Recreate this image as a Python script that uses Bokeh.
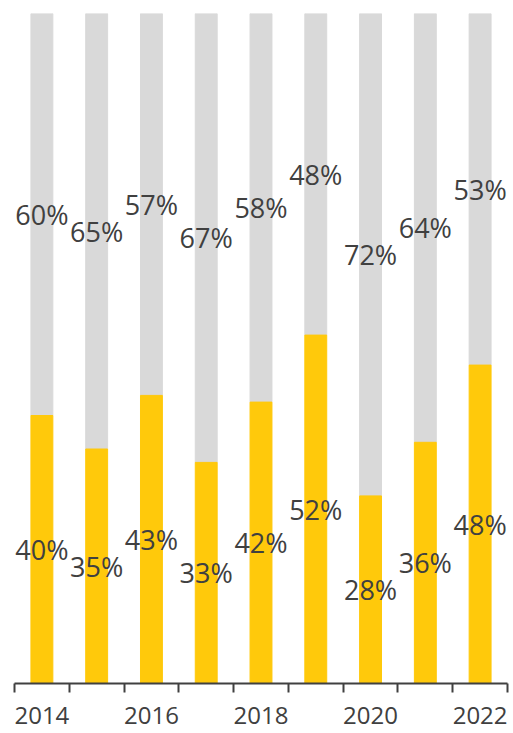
from bokeh.plotting import figure
from bokeh.models import ColumnDataSource, FixedTicker, Range1d
from bokeh.embed import file_html
from bokeh.resources import INLINE
from bokeh.core.properties import value

years = ["2014", "2015", "2016", "2017", "2018", "2019", "2020", "2021", "2022"]
yellow = [40, 35, 43, 33, 42, 52, 28, 36, 48]
gray = [60, 65, 57, 67, 58, 48, 72, 64, 53]
tick_years = ["2014", "2016", "2018", "2020", "2022"]

YELLOW = "#FFC90B"
GRAY = "#D9D9D9"
TEXT = "#404040"

x = list(range(len(years)))
tot = [a + b for a, b in zip(yellow, gray)]
ys = [a / t * 100 for a, t in zip(yellow, tot)]
top = [100.0] * len(years)
src = ColumnDataSource(dict(
    x=x, ys=ys, top=top,
    ymid=[v / 2 for v in ys],
    gmid=[(v + 100) / 2 for v in ys],
    ylab=[f"{v}%" for v in yellow],
    glab=[f"{v}%" for v in gray],
))

p = figure(width=510, height=732, output_backend="svg", toolbar_location=None,
           x_range=Range1d(-0.5, len(years) - 0.5), y_range=Range1d(0, 100),
           min_border_left=14, min_border_right=3, min_border_top=13, min_border_bottom=49)
p.outline_line_color = None
p.grid.visible = False
p.yaxis.visible = False
p.background_fill_color = "white"
p.border_fill_color = "white"

p.vbar(x="x", bottom="ys", top="top", width=0.4, color=GRAY, source=src)
p.vbar(x="x", bottom=0, top="ys", width=0.4, color=YELLOW, source=src)

p.text(x="x", y="ymid", text="ylab", source=src, text_align="center", text_baseline="middle",
       text_font=value("Open Sans"), text_font_size="27px", text_color=TEXT)
p.text(x="x", y="gmid", text="glab", source=src, text_align="center", text_baseline="middle",
       text_font=value("Open Sans"), text_font_size="27px", text_color=TEXT)

major = [years.index(t) for t in tick_years]
minor = [i - 0.5 for i in range(len(years) + 1)]
ax = p.xaxis[0]
ax.ticker = FixedTicker(ticks=major, minor_ticks=minor)
ax.major_label_overrides = {i: years[i] for i in major}
ax.major_tick_line_color = None
ax.major_tick_out = 0
ax.major_tick_in = 0
ax.minor_tick_line_color = TEXT
ax.minor_tick_line_width = 2
ax.minor_tick_out = 9
ax.minor_tick_in = 0
ax.axis_line_color = TEXT
ax.axis_line_width = 2
ax.major_label_standoff = 14
ax.major_label_text_font = "Open Sans"
ax.major_label_text_font_size = "24px"
ax.major_label_text_color = TEXT

open("out.html", "w").write(file_html(p, INLINE))
